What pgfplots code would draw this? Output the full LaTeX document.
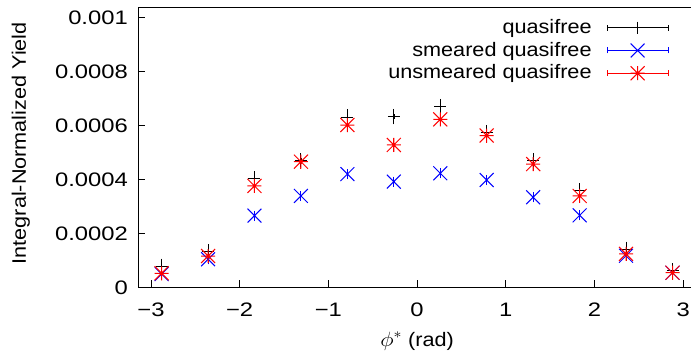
\documentclass[border=0pt]{standalone}
\usepackage{pgfplots}
\pgfplotsset{compat=1.18}
\usepackage{graphicx}
\usepackage{fontspec}
\setmainfont{Liberation Sans}
\newcommand{\hs}[1]{\scalebox{1.11}[1]{#1}}
\newcommand{\hd}[1]{\scalebox{1.22}[1]{#1}}
\pgfdeclareplotmark{gpstar}{%
  \pgfpathmoveto{\pgfqpoint{-\pgfplotmarksize}{0pt}}%
  \pgfpathlineto{\pgfqpoint{\pgfplotmarksize}{0pt}}%
  \pgfpathmoveto{\pgfqpoint{0pt}{-\pgfplotmarksize}}%
  \pgfpathlineto{\pgfqpoint{0pt}{\pgfplotmarksize}}%
  \pgfpathmoveto{\pgfqpoint{-\pgfplotmarksize}{-\pgfplotmarksize}}%
  \pgfpathlineto{\pgfqpoint{\pgfplotmarksize}{\pgfplotmarksize}}%
  \pgfpathmoveto{\pgfqpoint{-\pgfplotmarksize}{\pgfplotmarksize}}%
  \pgfpathlineto{\pgfqpoint{\pgfplotmarksize}{-\pgfplotmarksize}}%
  \pgfusepathqstroke}

\pgfplotstableread{
x y e
-2.880 0.000078 0.000010
-2.356 0.000132 0.000010
-1.833 0.000402 0.000010
-1.309 0.000470 0.000010
-0.785 0.000631 0.000010
-0.262 0.000633 0.000010
0.262 0.000670 0.000010
0.785 0.000574 0.000010
1.309 0.000470 0.000010
1.833 0.000358 0.000010
2.356 0.000141 0.000010
2.880 0.000061 0.000010
}\qf
\pgfplotstableread{
x y e
-2.880 0.000049 0.000004
-2.356 0.000104 0.000004
-1.833 0.000266 0.000004
-1.309 0.000339 0.000004
-0.785 0.000420 0.000004
-0.262 0.000392 0.000004
0.262 0.000423 0.000004
0.785 0.000398 0.000004
1.309 0.000334 0.000004
1.833 0.000267 0.000004
2.356 0.000117 0.000004
2.880 0.000054 0.000004
}\sm
\pgfplotstableread{
x y e
-2.880 0.000052 0.000008
-2.356 0.000116 0.000008
-1.833 0.000376 0.000008
-1.309 0.000466 0.000008
-0.785 0.000602 0.000008
-0.262 0.000528 0.000008
0.262 0.000623 0.000008
0.785 0.000563 0.000008
1.309 0.000457 0.000008
1.833 0.000339 0.000008
2.356 0.000124 0.000008
2.880 0.000054 0.000008
}\us

\begin{document}
\fontsize{19.5bp}{22bp}\selectfont
\begin{tikzpicture}
\begin{axis}[
  scale only axis,
  width=557.3bp, height=279.3bp,
  xmin=-3.14159, xmax=3.14159,
  ymin=0, ymax=0.001036,
  axis line style={line width=1bp},
  tick align=inside,
  major tick length=7bp,
  tick style={line width=0.8bp, black},
  xtick={-3,-2,-1,0,1,2,3},
  xticklabels={\hd{−3},\hd{−2},\hd{−1},\hd{0},\hd{1},\hd{2},\hd{3}},
  xtick pos=bottom,
  ytick={0,0.0002,0.0004,0.0006,0.0008,0.001},
  yticklabels={\hd{0},\hd{0.0002},\hd{0.0004},\hd{0.0006},\hd{0.0008},\hd{0.001}},
  ytick pos=left,
  scaled y ticks=false,
  yticklabel style={anchor=east, inner sep=0pt, xshift=-10.4bp},
  xticklabel style={anchor=north, inner sep=0pt, yshift=-15.2bp},
  xlabel={\hs{$\phi^*$ (rad)}},
  xlabel style={at={(axis description cs:0.5,0)}, anchor=base, inner sep=0pt, yshift=-58.7bp},
  ylabel={\hs{Integral-Normalized Yield}},
  ylabel style={at={(axis description cs:-0.2020,0.5158)}, anchor=base, inner sep=0pt},
  legend style={draw=none, fill=none, at={(axis description cs:1,1)}, anchor=north east,
    xshift=-26.9bp, yshift=-11bp, inner sep=0pt, nodes={inner sep=0pt},
    column sep=15bp, row sep=5.7bp},
  legend plot pos=right,
  legend cell align=right,
  legend image code/.code={
    \draw[#1,mark=none] (0bp,0bp) -- (61bp,0bp);
    \draw[#1,mark=none] (0bp,-3bp) -- (0bp,3bp);
    \draw[#1,mark=none] (61bp,-3bp) -- (61bp,3bp);
    \draw[#1] plot coordinates {(30.5bp,0bp)};
  },
]
\addplot[black, line width=0.9bp, only marks, mark=+, mark size=6bp,
  error bars/.cd, y dir=both, y explicit, error mark options={mark size=5bp, line width=0.9bp}]
  table[x=x, y=y, y error=e] {\qf};
\addlegendentry{\rule[-4bp]{0pt}{17bp}\hs{quasifree}}
\addplot[blue, line width=1bp, only marks, mark=x, mark size=9.8bp,
  error bars/.cd, y dir=both, y explicit, error mark options={mark size=4bp, line width=1bp}]
  table[x=x, y=y, y error=e] {\sm};
\addlegendentry{\rule[-4bp]{0pt}{17bp}\hs{smeared quasifree}}
\addplot[red, line width=1bp, only marks, mark=gpstar, mark size=7bp,
  error bars/.cd, y dir=both, y explicit, error mark options={mark size=5bp, line width=1bp}]
  table[x=x, y=y, y error=e] {\us};
\addlegendentry{\rule[-4bp]{0pt}{17bp}\hs{unsmeared quasifree}}
\end{axis}
\pgfresetboundingbox
\path[use as bounding box] ([xshift=-138.4bp,yshift=-65.7bp]current axis.south west) rectangle ([xshift=552.6bp,yshift=8bp]current axis.north west);
\end{tikzpicture}
\end{document}
